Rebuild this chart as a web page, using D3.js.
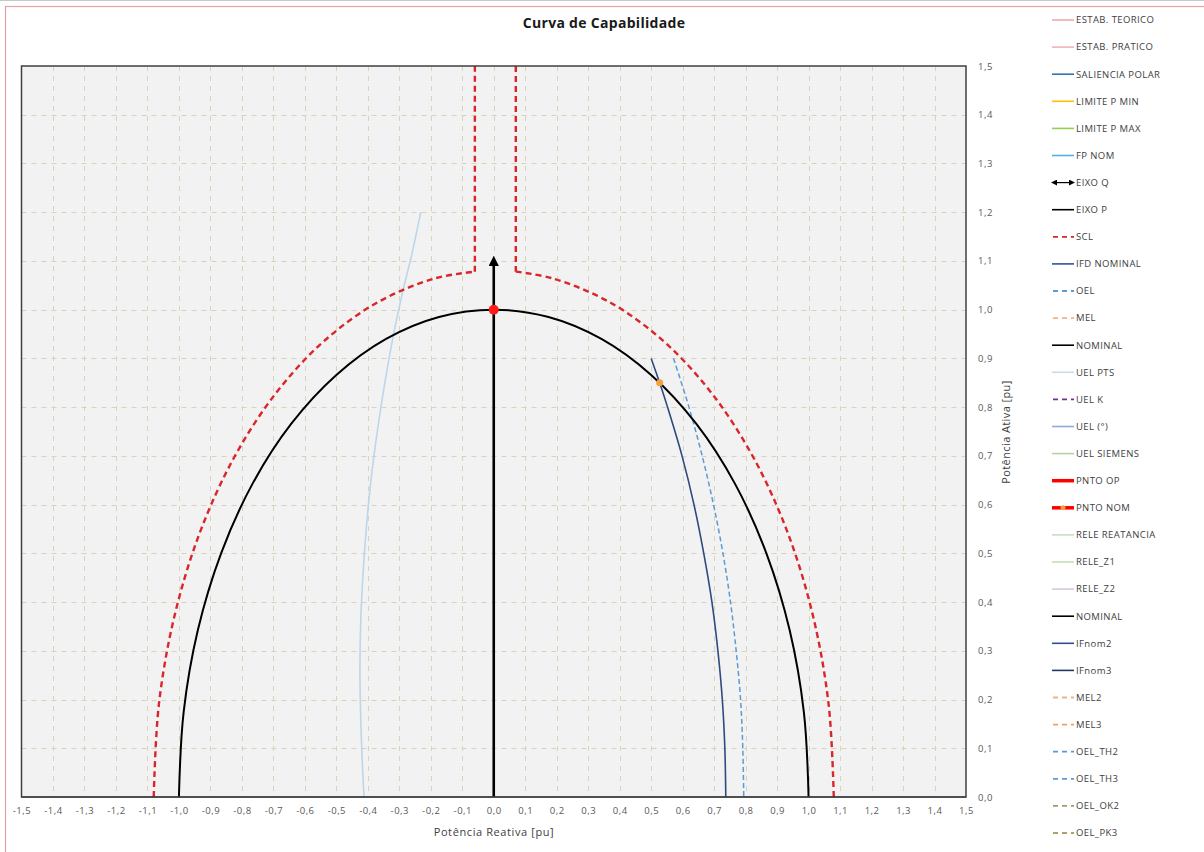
<!DOCTYPE html>
<html><head><meta charset="utf-8">
<script src="https://cdn.jsdelivr.net/npm/d3@7"></script>
<style>body{margin:0;background:#fff}svg{display:block}text{font-family:"Open Sans",sans-serif}</style>
</head><body><svg id="c" width="1204" height="852"></svg>
<script>
// ---------- DATA ----------
const chartTitle = "Curva de Capabilidade";
const xTitle = "Potência Reativa [pu]";
const yTitle = "Potência Ativa [pu]";
const xTicks = [-1.5,-1.4,-1.3,-1.2,-1.1,-1.0,-0.9,-0.8,-0.7,-0.6,-0.5,-0.4,-0.3,-0.2,-0.1,0.0,0.1,0.2,0.3,0.4,0.5,0.6,0.7,0.8,0.9,1.0,1.1,1.2,1.3,1.4,1.5];
const yTicks = [0.0,0.1,0.2,0.3,0.4,0.5,0.6,0.7,0.8,0.9,1.0,1.1,1.2,1.3,1.4,1.5];

// NOMINAL capability circle
const nominalQ = [-1.000,-0.985,-0.940,-0.866,-0.766,-0.643,-0.500,-0.342,-0.174,0.000,0.174,0.342,0.500,0.643,0.766,0.866,0.940,0.985,1.000];
const nominalP = [0.000,0.174,0.342,0.500,0.643,0.766,0.866,0.940,0.985,1.000,0.985,0.940,0.866,0.766,0.643,0.500,0.342,0.174,0.000];

// SCL (dashed red)
const sclLeftQ = [-1.080,-1.064,-1.015,-0.935,-0.827,-0.694,-0.540,-0.369,-0.188,-0.060];
const sclLeftP = [0.000,0.188,0.369,0.540,0.694,0.827,0.935,1.015,1.064,1.078];
const sclLeftUpQ = [-0.060,-0.060];
const sclLeftUpP = [1.078,1.500];
const sclRightUpQ = [0.070,0.070];
const sclRightUpP = [1.500,1.078];
const sclRightQ = [0.070,0.188,0.369,0.540,0.694,0.827,0.935,1.015,1.064,1.080];
const sclRightP = [1.078,1.064,1.015,0.935,0.827,0.694,0.540,0.369,0.188,0.000];

// IFD NOMINAL (field current limit)
const ifdQ = [0.500,0.527,0.552,0.598,0.636,0.667,0.693,0.712,0.726,0.734,0.737];
const ifdP = [0.900,0.850,0.800,0.700,0.600,0.500,0.400,0.300,0.200,0.100,0.000];

// OEL (dashed blue)
const oelQ = [0.571,0.620,0.662,0.698,0.728,0.752,0.770,0.784,0.791,0.794];
const oelP = [0.900,0.800,0.700,0.600,0.500,0.400,0.300,0.200,0.100,0.000];

// UEL PTS (light blue)
const uelQ = [-0.232,-0.258,-0.288,-0.318,-0.346,-0.370,-0.390,-0.405,-0.416,-0.423,-0.425,-0.422,-0.416,-0.412];
const uelP = [1.200,1.120,1.040,0.950,0.850,0.750,0.650,0.550,0.450,0.350,0.250,0.150,0.050,0.000];

// EIXO P (vertical arrow) and EIXO Q
const eixoPQ = [0.0,0.0];
const eixoPP = [0.0,1.1];
const eixoQQ = [-1.5,1.5];
const eixoQP = [0.0,0.0];

// Operating / nominal points
const pntoOpQ = [0.0];
const pntoOpP = [1.0];
const pntoNomQ = [0.527];
const pntoNomP = [0.850];

// Legend
const legendNames = ["ESTAB. TEORICO","ESTAB. PRATICO","SALIENCIA POLAR","LIMITE P MIN","LIMITE P MAX","FP NOM","EIXO Q","EIXO P","SCL","IFD NOMINAL","OEL","MEL","NOMINAL","UEL PTS","UEL K","UEL (°)","UEL SIEMENS","PNTO OP","PNTO NOM","RELE REATANCIA","RELE_Z1","RELE_Z2","NOMINAL","IFnom2","IFnom3","MEL2","MEL3","OEL_TH2","OEL_TH3","OEL_OK2","OEL_PK3"];
const legendColors = ["#eeaaaa","#eeb4b4","#2e75b6","#ffc000","#92d050","#4fb3e8","#000000","#000000","#d9262b","#2f5597","#5b9bd5","#f4b183","#000000","#c5dced","#7030a0","#8faadc","#b5d3a0","#ff0000","#ff0000","#c8dfc0","#c5e0b4","#d5c8e0","#000000","#2f4f8f","#203864","#f4b183","#f4a05a","#5b9bd5","#5b9bd5","#a89968","#b0a070"];
const legendTypes = ["line","line","line","line","line","line","arrow","line","dash","line","dash","dash","line","line","dash","line","line","thick","thickmark","line","line","line","line","line","line","dash","dash","dash","dash","dash","dash"];

// ---------- DRAW ----------
const svg = d3.select("#c");
const L = 21.5, R = 966, T = 66, B = 797;
const x = d3.scaleLinear().domain([-1.5,1.5]).range([L,R]);
const y = d3.scaleLinear().domain([0,1.5]).range([B,T]);
const fmt = v => d3.format(".1f")(v).replace(".",",").replace("−","-");

// frame
svg.append("line").attr("x1",0).attr("x2",1204).attr("y1",0.5).attr("y2",0.5).attr("stroke","#c8c8c8");
svg.append("rect").attr("x",5.5).attr("y",6.5).attr("width",1300).attr("height",1000)
  .attr("fill","none").attr("stroke","#e8a0a8").attr("stroke-width",1.2);

// title
svg.append("text").attr("x",604).attr("y",28).attr("text-anchor","middle")
  .attr("font-size",14).attr("letter-spacing",0.3).attr("font-weight","bold").attr("fill","#1a1a1a").text(chartTitle);

// plot bg
svg.append("rect").attr("x",L).attr("y",T).attr("width",R-L).attr("height",B-T).attr("fill","#f2f2f2");

// grid
const grid = svg.append("g").attr("stroke","#d8d3bd").attr("stroke-width",1).attr("stroke-dasharray","5,5");
xTicks.slice(1,-1).forEach(v=>grid.append("line").attr("x1",Math.round(x(v))+0.5).attr("x2",Math.round(x(v))+0.5).attr("y1",T).attr("y2",B));
yTicks.slice(1,-1).forEach(v=>grid.append("line").attr("y1",Math.round(y(v))+0.5).attr("y2",Math.round(y(v))+0.5).attr("x1",L).attr("x2",R));

// axes (labels)
const xAxis = d3.axisBottom(x).tickValues(xTicks).tickFormat(fmt).tickSize(0).tickPadding(10);
const gx = svg.append("g").attr("transform",`translate(0,${B})`).call(xAxis);
gx.select(".domain").remove();
gx.selectAll("text").attr("font-size",9.5).attr("letter-spacing",0.5).attr("fill","#595959").attr("font-family","Open Sans");
const yAxis = d3.axisRight(y).tickValues(yTicks).tickFormat(fmt).tickSize(0).tickPadding(12);
const gy = svg.append("g").attr("transform",`translate(${R},0)`).call(yAxis);
gy.select(".domain").remove();
gy.selectAll("text").attr("font-size",9.5).attr("letter-spacing",0.5).attr("fill","#595959").attr("font-family","Open Sans");

svg.append("text").attr("x",494).attr("y",836).attr("text-anchor","middle").attr("font-size",11).attr("letter-spacing",0.6).attr("fill","#404040").text(xTitle);
svg.append("text").attr("transform","translate(1010,432) rotate(-90)").attr("text-anchor","middle").attr("font-size",11).attr("letter-spacing",0.4).attr("fill","#404040").text(yTitle);

// clip
svg.append("clipPath").attr("id","clip").append("rect").attr("x",L).attr("y",T).attr("width",R-L).attr("height",B-T);
const plot = svg.append("g").attr("clip-path","url(#clip)");

const zip = (qs,ps) => qs.map((q,i)=>[q,ps[i]]);
const smooth = d3.line().x(d=>x(d[0])).y(d=>y(d[1])).curve(d3.curveCatmullRom.alpha(0.5));
const lin = d3.line().x(d=>x(d[0])).y(d=>y(d[1]));

// defs arrow
const defs = svg.append("defs");
defs.append("marker").attr("id","arr").attr("viewBox","0 0 10 10").attr("refX",5).attr("refY",5)
  .attr("markerWidth",4).attr("markerHeight",4).attr("orient","auto")
  .append("path").attr("d","M0,0 L10,5 L0,10 z").attr("fill","#000");
defs.append("marker").attr("id","arrs").attr("viewBox","0 0 10 10").attr("refX",5).attr("refY",5)
  .attr("markerWidth",5).attr("markerHeight",5).attr("orient","auto-start-reverse")
  .append("path").attr("d","M0,0 L10,5 L0,10 z").attr("fill","#000");

// UEL PTS
plot.append("path").attr("d",smooth(zip(uelQ,uelP))).attr("fill","none").attr("stroke","#bcd6ea").attr("stroke-width",1.6);
// OEL
plot.append("path").attr("d",smooth(zip(oelQ,oelP))).attr("fill","none").attr("stroke","#5b9bd5").attr("stroke-width",1.5).attr("stroke-dasharray","5,3");
// IFD
plot.append("path").attr("d",smooth(zip(ifdQ,ifdP))).attr("fill","none").attr("stroke","#2f4a80").attr("stroke-width",1.6);
// SCL
[[sclLeftQ,sclLeftP,smooth],[sclLeftUpQ,sclLeftUpP,lin],[sclRightUpQ,sclRightUpP,lin],[sclRightQ,sclRightP,smooth]].forEach(([q,p,g])=>{
  plot.append("path").attr("d",g(zip(q,p))).attr("fill","none").attr("stroke","#d9262b").attr("stroke-width",2.4).attr("stroke-dasharray","6,4");
});
// NOMINAL
plot.append("path").attr("d",smooth(zip(nominalQ,nominalP))).attr("fill","none").attr("stroke","#000").attr("stroke-width",2);
// EIXO P
svg.append("path").attr("d",lin(zip(eixoPQ,eixoPP))).attr("fill","none").attr("stroke","#000").attr("stroke-width",2.6).attr("marker-end","url(#arr)");
// EIXO Q
svg.append("path").attr("d",lin(zip(eixoQQ,eixoQP))).attr("fill","none").attr("stroke","#000").attr("stroke-width",1);

// plot border
svg.append("rect").attr("x",L).attr("y",T).attr("width",R-L).attr("height",B-T).attr("fill","none").attr("stroke","#404040").attr("stroke-width",1.5);

// points
svg.selectAll(".op").data(zip(pntoOpQ,pntoOpP)).join("circle").attr("cx",d=>x(d[0])).attr("cy",d=>y(d[1])).attr("r",5).attr("fill","#ff1a1a");
svg.selectAll(".nom").data(zip(pntoNomQ,pntoNomP)).join("circle").attr("cx",d=>x(d[0])).attr("cy",d=>y(d[1])).attr("r",3.5).attr("fill","#f5a040");

// legend
const lg = svg.append("g");
legendNames.forEach((n,i)=>{
  const yy = 20 + i*27.1;
  const c = legendColors[i], t = legendTypes[i];
  const g = lg.append("g");
  if(t==="arrow"){
    g.append("line").attr("x1",1054).attr("x2",1072).attr("y1",yy).attr("y2",yy).attr("stroke","#000").attr("stroke-width",1.2)
      .attr("marker-start","url(#arrs)").attr("marker-end","url(#arrs)");
  } else {
    const ln = g.append("line").attr("x1",1052).attr("x2",1074).attr("y1",yy).attr("y2",yy).attr("stroke",c)
      .attr("stroke-width", t.startsWith("thick")?3.5:(t==="dash"?1.8:1.6));
    if(t==="dash") ln.attr("x1",1053).attr("stroke-dasharray","5,4");
    if(t==="thickmark") g.append("circle").attr("cx",1063).attr("cy",yy).attr("r",2.5).attr("fill","#f5a040");
  }
  g.append("text").attr("x",1076).attr("y",yy+3.3).attr("font-size",9.5).attr("letter-spacing",0.4).attr("fill","#404040").text(n);
});
</script></body></html>
